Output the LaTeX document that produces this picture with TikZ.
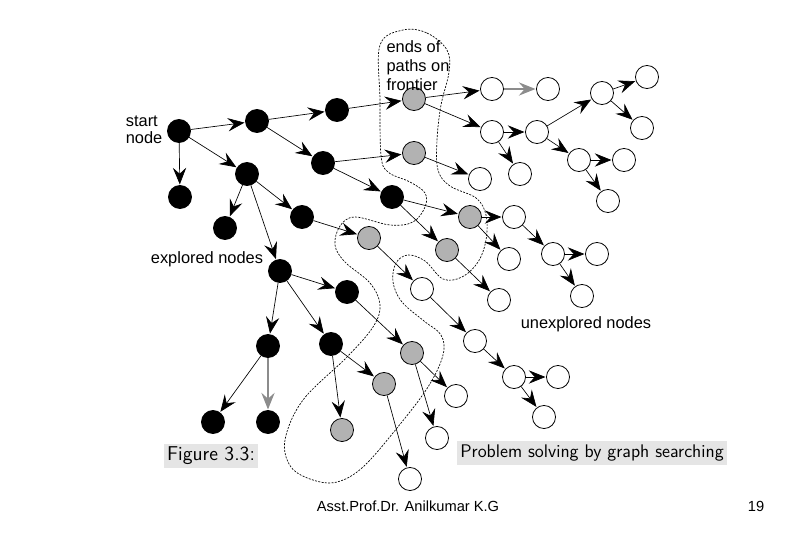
\documentclass[tikz,border=0pt]{standalone}
\usepackage{fontspec}
\newfontfamily\arialfont{Liberation Sans}
\usetikzlibrary{arrows.meta,positioning}

\begin{document}
\begin{tikzpicture}[x=0.75pt,y=-0.75pt,
  every node/.style={font=\arialfont\fontsize{12.3}{14.3}\selectfont},
  etat/.style={circle,draw,line width=0.6pt,minimum size=17.3pt,inner sep=0pt},
  noir/.style={etat,fill=black},
  gris/.style={etat,fill=black!30},
  blanc/.style={etat,fill=white},
  fleche/.style={line width=0.5pt,-{Stealth[length=12.5pt,width=10pt,inset=4.5pt]},shorten >=0.5pt},
  cadre/.style={fill=black!10,inner sep=2.5pt,font=\sffamily\fontsize{13.7}{16}\selectfont},
  pied/.style={font=\arialfont\fontsize{11}{13}\selectfont}]
  \useasboundingbox (0,0) rectangle (810,540);
  \foreach \n/\x/\y in {S/179/131,A/257/121,B/337/110,C/180/197,D/247/174,E/323/163,F/392/197,G/225/228,
      H/302/217,I/280/271,J/347/292,K/268/346,L/331/344,M/213/422,N/268/422}
    \node[noir] (\n) at (\x,\y) {};
  \foreach \n/\x/\y in {g1/414/99,g2/414/153,g3/470/217,g4/447/250,g5/369/238,g6/412/353,g7/384/384,g8/342/430}
    \node[gris] (\n) at (\x,\y) {};
  \foreach \n/\x/\y in {w1/492/89,w2/548/89,w3/492/132,w4/537/132,w5/602/93,w6/647/77,w7/642/128,
      w8/520/174,w9/480/179,w10/579/160,w11/624/160,w12/608/201,w13/514/217,w14/509/259,w15/553/254,
      w16/597/254,w17/582/296,w18/422/289,w19/499/300,w20/475/341,w21/514/377,w22/558/377,w23/544/417,
      w24/456/396,w25/437/438,w26/410/479}
    \node[blanc] (\n) at (\x,\y) {};
  \foreach \a/\b in {S/A,S/C,S/D,A/B,A/E,B/g1,E/g2,E/F,D/G,D/H,D/I,H/g5,F/g3,F/g4,g1/w1,g1/w3,
      w3/w4,w3/w8,w4/w5,w4/w10,w5/w6,w5/w7,w10/w11,w10/w12,g2/w9,g3/w13,g3/w14,w13/w15,w15/w16,w15/w17,
      g4/w19,g5/w18,w18/w20,w20/w21,w21/w22,w21/w23,I/J,I/K,I/L,J/g6,K/M,L/g7,L/g8,g6/w24,g6/w25,g7/w26}
    \draw[fleche] (\a) -- (\b);
  \draw[fleche,draw=black!45,line width=0.8pt] (w1) -- (w2);
  \draw[fleche,draw=black!45,line width=0.8pt] (K) -- (N);
  \draw[line width=0.5pt,dash pattern=on 1.5pt off 1pt] plot[smooth cycle,tension=0.6] coordinates {
      (403,30) (427,33) (447,50) (449,72) (441,105) (437,140) (438,170) (450,186) (476,198) (486,215)
      (486,240) (478,262) (462,277) (443,279) (425,261) (408,255) (396,263) (393,282) (402,302) (424,321)
      (441,335) (443,355) (428,387) (397,428) (363,467) (337,482) (313,480) (291,467) (285,440) (303,400)
      (347,357) (373,327) (380,305) (370,283) (345,262) (335,245) (340,226) (355,217) (390,225) (413,222)
      (425,207) (425,193) (410,182) (388,172) (381,155) (380,100) (380,45)};
  \node[align=left,font=\arialfont\fontsize{12.3}{12.3}\selectfont,left=0pt of S,yshift=1pt] (depart) {start\\node};
  \node[align=left] (bout) at (418,66) {ends of\\paths on\\frontier};
  \node (explores) at (207,259) {explored nodes};
  \node (inexplores) at (586,324) {unexplored nodes};
  \node[cadre,font=\sffamily\fontsize{15}{17}\selectfont] (figure) at (211,456) {Figure 3.3:};
  \node[cadre] (titre) at (592,453) {Problem solving by graph searching};
  \node[pied] (auteur) at (408,506) {Asst.Prof.Dr. Anilkumar K.G};
  \node[pied] (page) at (756,506) {19};
\end{tikzpicture}
\end{document}
